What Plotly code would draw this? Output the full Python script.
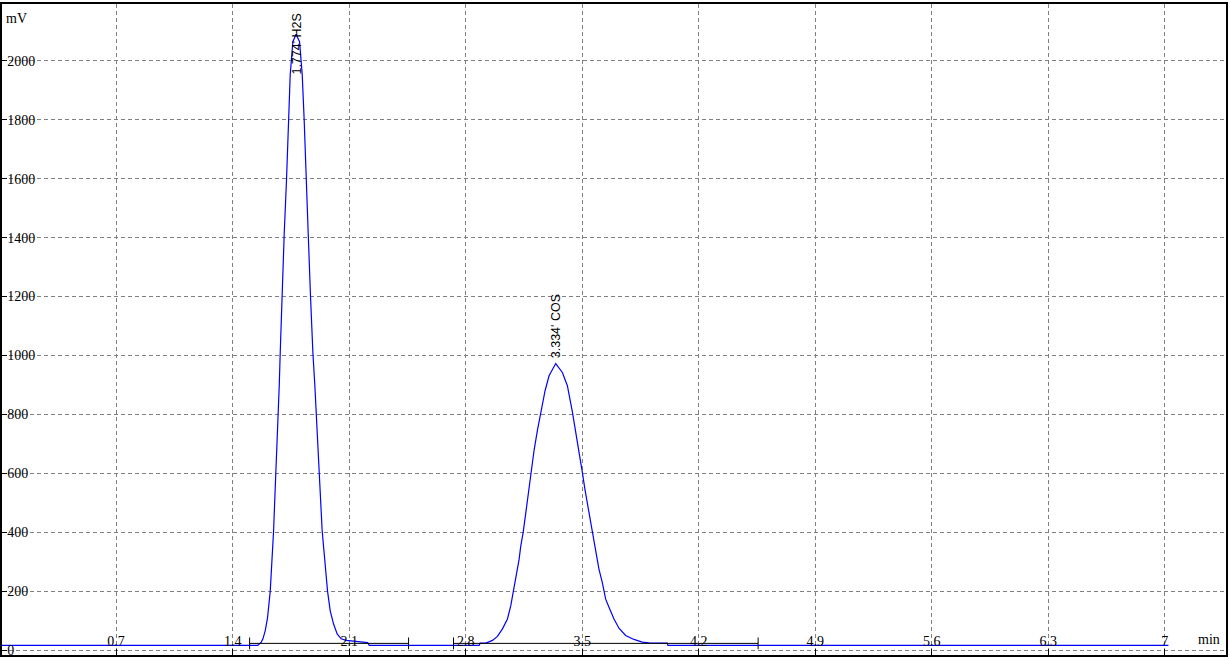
import plotly.graph_objects as go

# ---- data ----
time_min = [
    0.000, 1.551, 1.572, 1.582, 1.596, 1.610, 1.626, 1.636, 1.646, 1.652,
    1.660, 1.666, 1.676, 1.680, 1.686, 1.692, 1.696, 1.710, 1.724, 1.736,
    1.746, 1.762, 1.781, 1.802, 1.818, 1.830, 1.844, 1.854, 1.868, 1.872,
    1.882, 1.894, 1.902, 1.912, 1.922, 1.930, 1.938, 1.954, 1.970, 1.986,
    2.006, 2.028, 2.052, 2.082, 2.211, 2.221,
    2.881, 2.887, 2.921, 2.961, 2.991, 3.021, 3.051, 3.071, 3.087, 3.101,
    3.121, 3.131, 3.145, 3.161, 3.177, 3.191, 3.211, 3.231, 3.251, 3.277,
    3.301, 3.341, 3.381, 3.411, 3.441, 3.471, 3.501, 3.517, 3.541, 3.561,
    3.581, 3.601, 3.621, 3.641, 3.661, 3.691, 3.721, 3.761, 3.811, 3.861,
    3.901, 4.011, 4.015, 7.022,
]
signal_mv = [
    15.8, 15.8, 27, 38, 66, 111, 201, 291, 404, 493,
    594, 674, 796, 897, 1011, 1122, 1199, 1415, 1600, 1796,
    1954, 2065, 2090, 2065, 1954, 1796, 1600, 1415, 1199, 1122,
    1011, 897, 796, 674, 594, 493, 404, 291, 201, 134,
    89, 55, 38, 33, 25, 15.8,
    15.8, 23.6, 23.6, 32.7, 46.2, 71.8, 105.4, 150.6, 197.7, 245.9,
    307.6, 352.7, 397.5, 464.9, 532.3, 599.6, 678.1, 745.5, 801.8, 880.2,
    930.8, 972.6, 942.2, 897.1, 808.5, 711.8, 603.0, 543.4, 464.9, 397.5,
    326.8, 273.9, 229.1, 172.8, 144.9, 105.4, 74.1, 49.5, 36.0, 27.0,
    24.6, 23.6, 15.8, 15.8,
]

peak_names = ["1.774' H2S", "3.334' COS"]
peak_times = [1.781, 3.341]

baseline_start = [1.502, 2.727]
baseline_end = [2.457, 4.557]
baseline_level = [22.6, 22.6]

x_tick_vals = [0.7, 1.4, 2.1, 2.8, 3.5, 4.2, 4.9, 5.6, 6.3, 7.0]
x_tick_text = ["0.7", "1.4", "2.1", "2.8", "3.5", "4.2", "4.9", "5.6", "6.3", "7"]
y_tick_vals = [0, 200, 400, 600, 800, 1000, 1200, 1400, 1600, 1800, 2000]
y_tick_text = [str(v) for v in y_tick_vals]

X_RANGE = [0.01445, 7.3678]
Y_RANGE = [-16.84, 2193.0]

fig = go.Figure()

# signal
fig.add_trace(go.Scatter(
    x=time_min, y=signal_mv, mode="lines",
    line=dict(color="#0000ff", width=1.2), hoverinfo="skip", showlegend=False,
))

# integration baselines with end ticks
tick_half = 20
for s, e, lv in zip(baseline_start, baseline_end, baseline_level):
    fig.add_trace(go.Scatter(
        x=[s, e], y=[lv, lv], mode="lines",
        line=dict(color="black", width=1), hoverinfo="skip", showlegend=False,
    ))
    for xe in (s, e):
        fig.add_trace(go.Scatter(
            x=[xe, xe], y=[lv - tick_half, lv + tick_half], mode="lines",
            line=dict(color="black", width=1), hoverinfo="skip", showlegend=False,
        ))

# peak labels
plot_h = 660 - 4
px_per_mv = plot_h / (Y_RANGE[1] - Y_RANGE[0])
label_len_px = 64
for name, pt in zip(peak_names, peak_times):
    h = max(v for t, v in zip(time_min, signal_mv) if abs(t - pt) < 0.3)
    top_room = (Y_RANGE[1] - h) * px_per_mv
    if top_room > label_len_px + 20:
        fig.add_annotation(x=pt, y=h, xref="x", yref="y", text=name,
                           textangle=-90, showarrow=False,
                           xanchor="center", yanchor="bottom", yshift=3,
                           font=dict(family="Liberation Sans", size=12.5, color="black"))
    else:
        fig.add_annotation(x=pt, y=Y_RANGE[1], xref="x", yref="y", text=name,
                           textangle=-90, showarrow=False,
                           xanchor="center", yanchor="top", yshift=-8,
                           font=dict(family="Liberation Sans", size=12.5, color="black"))

# unit labels
fig.add_annotation(x=0.002, y=0.992, xref="paper", yref="paper", text="mV",
                   showarrow=False, xanchor="left", yanchor="top",
                   font=dict(family="Liberation Serif", size=14, color="black"))
fig.add_annotation(x=0.9967, y=0.0244, xref="paper", yref="paper", text="min",
                   showarrow=False, xanchor="right", yanchor="middle",
                   font=dict(family="Liberation Serif", size=14, color="black"))

grid = dict(showgrid=True, gridcolor="#808080", gridwidth=1, griddash="4px,3px")

fig.update_layout(
    width=1230, height=660,
    margin=dict(l=2, r=2, t=2, b=2, pad=0),
    paper_bgcolor="white", plot_bgcolor="white",
    showlegend=False,
    xaxis=dict(range=X_RANGE, tickvals=x_tick_vals, ticktext=x_tick_text,
               showline=True, linecolor="black", linewidth=2, mirror=True,
               ticks="inside", ticklen=6, tickcolor="black", tickwidth=1,
               ticklabelposition="inside", ticklabeloverflow="allow",
               zeroline=False,
               tickfont=dict(family="Liberation Serif", size=14, color="black"),
               **grid),
    yaxis=dict(range=Y_RANGE, tickvals=y_tick_vals, ticktext=y_tick_text,
               showline=True, linecolor="black", linewidth=2, mirror=True,
               ticks="inside", ticklen=5, tickcolor="black", tickwidth=1,
               ticklabelposition="inside", ticklabeloverflow="allow",
               zeroline=False,
               tickfont=dict(family="Liberation Serif", size=14, color="black"),
               **grid),
)

fig.write_html(
    "out.html",
    config={"displayModeBar": False, "staticPlot": True},
    post_script="document.body.style.margin='0';document.body.style.overflow='hidden';",
)
